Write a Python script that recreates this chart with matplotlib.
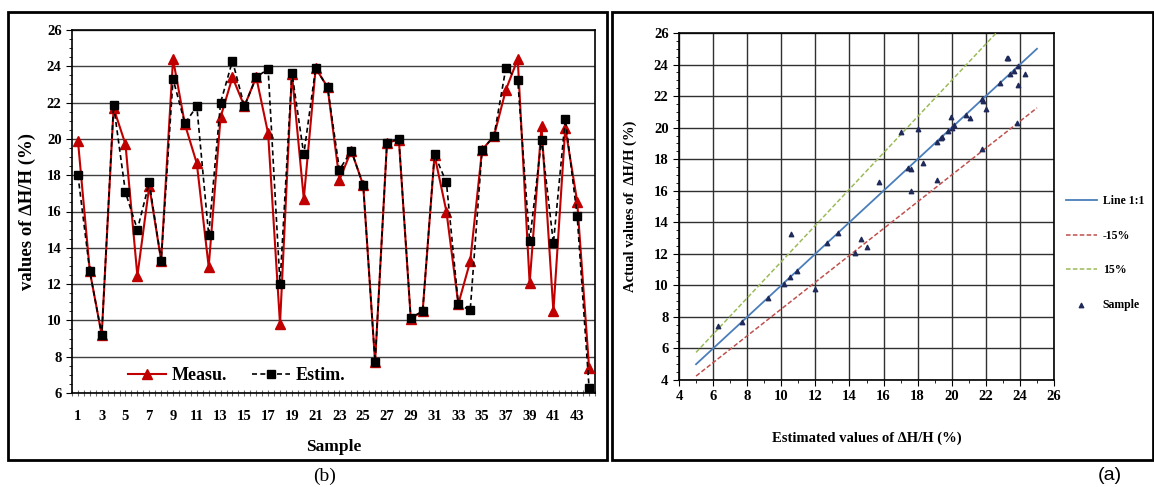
import matplotlib
matplotlib.use("Agg")
import matplotlib.pyplot as plt
import numpy as np
from matplotlib.patches import Rectangle
from matplotlib.ticker import MultipleLocator

samples = list(range(1, 45))
measured = [19.9, 12.7, 9.2, 21.7, 19.7, 12.45, 17.4, 13.3, 24.4, 20.8,
            18.65, 12.95, 21.2, 23.4, 21.8, 23.4, 20.3, 9.8, 23.6, 16.7,
            23.9, 22.85, 17.75, 19.35, 17.45, 7.7, 19.8, 19.95, 10.1, 10.5,
            19.1, 16.0, 10.9, 13.25, 19.4, 20.15, 22.7, 24.4, 12.05, 20.7,
            10.5, 20.6, 16.55, 7.4]
estimated = [18.0, 12.7, 9.2, 21.85, 17.05, 15.0, 17.6, 13.3, 23.3, 20.85,
             21.8, 14.7, 22.0, 24.3, 21.8, 23.4, 23.85, 12.0, 23.65, 19.15,
             23.9, 22.85, 18.3, 19.35, 17.45, 7.7, 19.8, 20.0, 10.15, 10.5,
             19.15, 17.6, 10.9, 10.55, 19.4, 20.15, 23.9, 23.25, 14.35, 19.95,
             14.25, 21.1, 15.75, 6.3]
# samples shown in scatter panel (a) (sample 41 is not drawn there)
scatter_samples = [s for s in samples if s != 41]
xtick_labels = [str(i) for i in range(1, 45, 2)]
line_x = [5, 25]
factors = {"Line 1:1": 1.0, "-15%": 0.85, "15%": 1.15}

plt.rcParams['font.family'] = ['Liberation Serif', 'DejaVu Serif']
plt.rcParams['font.weight'] = 'bold'

W, H = 1154, 487
fig = plt.figure(figsize=(W / 100, H / 100), dpi=100)

def fx(px):
    return px / W

def fy(py):
    return 1 - py / H

# outer boxes
fig.patches.append(Rectangle((fx(8), fy(460)), fx(607 - 8), (460 - 12) / H,
                             transform=fig.transFigure, fill=False, lw=2, ec='black'))
fig.patches.append(Rectangle((fx(612), fy(460)), fx(1153 - 612), (460 - 12) / H,
                             transform=fig.transFigure, fill=False, lw=2, ec='black'))

# ---------- left panel (b) ----------
ax1 = fig.add_axes([fx(72), fy(393), fx(595 - 72), (393 - 30) / H])
ax1.plot(samples, measured, color='#C00000', lw=1.5, marker='^', ms=7,
         label='Measu.', zorder=3)
ax1.plot(samples, estimated, color='black', lw=1.2, ls=(0, (3, 2)), marker='s',
         ms=5.5, label='Estim.', zorder=4)
ax1.set_xlim(0.5, 44.5)
ax1.set_ylim(6, 26)
ax1.set_yticks(np.arange(6, 27, 2))
ax1.yaxis.set_minor_locator(MultipleLocator(0.5))
ax1.set_xticks(range(1, 45, 2))
ax1.set_xticklabels(xtick_labels)
ax1.set_xticks(np.arange(0.5, 45, 0.5), minor=True)
ax1.tick_params(axis='x', which='both', direction='inout', length=5, width=0.8,
                labelsize=10.5, pad=10, color='#707070')
ax1.tick_params(axis='y', which='major', direction='out', length=4, labelsize=10.5)
ax1.tick_params(axis='y', which='minor', direction='out', length=2)
ax1.grid(axis='y', color='#404040', lw=1)
ax1.set_axisbelow(True)
for s in ax1.spines.values():
    s.set_linewidth(1.2)
ax1.set_xlabel('Sample', fontsize=12.5, fontweight='bold', labelpad=11)
ax1.set_ylabel('values of \u2206H/H (%)', fontsize=13.5, fontweight='bold', labelpad=8)
ax1.legend(loc='center left', bbox_to_anchor=(fx(128), fy(376)),
           bbox_transform=fig.transFigure, borderaxespad=0, borderpad=0,
           ncol=2, frameon=False, handlelength=2.1, columnspacing=1.4,
           handletextpad=0.3, markerfirst=True,
           prop={'weight': 'bold', 'size': 13})

# ---------- right panel (a) ----------
ax2 = fig.add_axes([fx(679), fy(380), fx(1054 - 679), (380 - 33) / H])
lx = np.array(line_x, dtype=float)
ax2.plot(lx, lx * factors["Line 1:1"], color='#4A7EBB', lw=1.3, label='Line 1:1', zorder=3)
ax2.plot(lx, lx * factors["-15%"], color='#C0504D', lw=1.1, ls=(0, (3, 1.5)),
         label='-15%', zorder=3)
ax2.plot(lx, lx * factors["15%"], color='#9BBB59', lw=1.1, ls=(0, (3, 1.5)),
         label='15%', zorder=3)
sx = [estimated[s - 1] for s in scatter_samples]
sy = [measured[s - 1] for s in scatter_samples]
ax2.scatter(sx, sy, marker='^', s=10, color='#1F2A5A', label='Sample', zorder=4)
ax2.set_xlim(4, 26)
ax2.set_ylim(4, 26)
ax2.set_xticks(np.arange(4, 27, 2))
ax2.set_yticks(np.arange(4, 27, 2))
ax2.xaxis.set_minor_locator(MultipleLocator(1))
ax2.yaxis.set_minor_locator(MultipleLocator(0.5))
ax2.tick_params(which='major', direction='out', length=4, labelsize=10.5)
ax2.tick_params(which='minor', direction='out', length=2)
ax2.grid(True, color='#303030', lw=1)
ax2.set_axisbelow(True)
for s in ax2.spines.values():
    s.set_linewidth(1.2)
ax2.set_xlabel('Estimated values of \u2206H/H (%)', fontsize=10.5, fontweight='bold', labelpad=20)
ax2.set_ylabel('Actual values of  \u2206H/H (%)', fontsize=10.5, fontweight='bold', labelpad=12)
ax2.legend(loc='center left', bbox_to_anchor=(fx(1066), fy(253)),
           bbox_transform=fig.transFigure, borderaxespad=0, borderpad=0,
           frameon=False, handlelength=2.6, handletextpad=0.5, labelspacing=1.9,
           prop={'weight': 'bold', 'size': 8.5})

fig.text(fx(325), fy(476), '(b)', ha='center', va='center', fontsize=14, fontweight='normal')
fig.text(fx(1110), fy(476), '(a)', ha='center', va='center', fontsize=14,
         fontweight='normal', family=['Liberation Sans', 'DejaVu Sans'])

fig.savefig('out.png', dpi=100)
